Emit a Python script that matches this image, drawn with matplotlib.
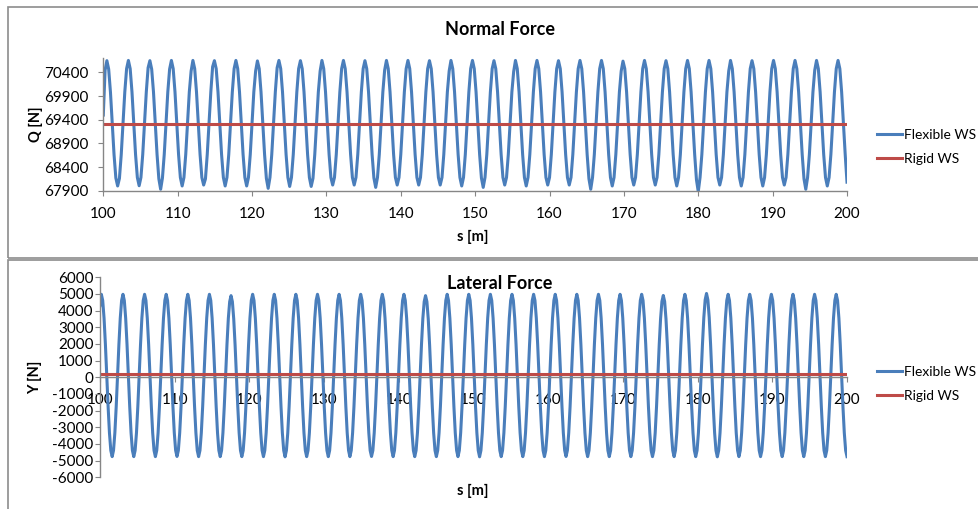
import numpy as np
import matplotlib
matplotlib.use("Agg")
import matplotlib.pyplot as plt
from matplotlib.patches import Rectangle

plt.rcParams['font.family'] = ['Lato', 'DejaVu Sans']
plt.rcParams['axes.unicode_minus'] = False

# ---------------- data ----------------
x_ticks = [100, 110, 120, 130, 140, 150, 160, 170, 180, 190, 200]
q_ticks = [67900, 68400, 68900, 69400, 69900, 70400]
y_ticks = [-6000, -5000, -4000, -3000, -2000, -1000, 0, 1000, 2000, 3000, 4000, 5000, 6000]
series_names = ["Flexible WS", "Rigid WS"]

# Normal force Q [N], flexible wheelset (evenly spaced in s from 100 to 200 m)
Q_flex = [
    69500, 70450, 70650, 70470, 69980, 69320, 68660, 68170, 68000, 68160, 68660, 69330,
    69990, 70480, 70655, 70480, 69990, 69330, 68665, 68180, 68005, 68180, 68665, 69330,
    69990, 70500, 70650, 70470, 69990, 69330, 68665, 68150, 67930, 68170, 68665, 69330,
    69990, 70470, 70655, 70480, 69990, 69330, 68665, 68180, 68000, 68180, 68665, 69330,
    69990, 70430, 70655, 70480, 69990, 69330, 68665, 68180, 68020, 68150, 68665, 69330,
    69990, 70520, 70650, 70480, 69990, 69330, 68665, 68180, 68000, 68180, 68665, 69330,
    69990, 70480, 70655, 70480, 69990, 69330, 68665, 68180, 68000, 68180, 68665, 69330,
    69990, 70430, 70645, 70480, 69990, 69330, 68665, 68160, 67950, 68180, 68665, 69330,
    69990, 70500, 70655, 70480, 69990, 69330, 68665, 68180, 67990, 68180, 68665, 69330,
    69990, 70480, 70650, 70480, 69990, 69330, 68665, 68180, 67990, 68160, 68665, 69330,
    69990, 70430, 70655, 70480, 69990, 69330, 68665, 68180, 68020, 68180, 68665, 69330,
    69990, 70480, 70655, 70480, 69990, 69330, 68665, 68180, 68020, 68180, 68665, 69330,
    69990, 70480, 70650, 70480, 69990, 69330, 68665, 68170, 67970, 68180, 68665, 69330,
    69990, 70450, 70655, 70480, 69990, 69330, 68665, 68180, 68020, 68180, 68665, 69330,
    69990, 70480, 70655, 70480, 69990, 69330, 68665, 68180, 68020, 68180, 68665, 69330,
    69990, 70480, 70650, 70480, 69990, 69330, 68665, 68180, 68020, 68180, 68665, 69330,
    69990, 70430, 70655, 70480, 69990, 69330, 68665, 68180, 68000, 68180, 68665, 69330,
    69990, 70480, 70655, 70480, 69990, 69330, 68665, 68170, 67970, 68180, 68665, 69330,
    69990, 70480, 70650, 70480, 69990, 69330, 68665, 68180, 68020, 68180, 68665, 69330,
    69990, 70420, 70655, 70480, 69990, 69330, 68665, 68180, 68000, 68180, 68665, 69330,
    69990, 70480, 70655, 70480, 69990, 69330, 68665, 68180, 68020, 68180, 68665, 69330,
    69990, 70480, 70650, 70480, 69990, 69330, 68665, 68180, 68020, 68180, 68665, 69330,
    69990, 70480, 70655, 70480, 69990, 69330, 68665, 68150, 67930, 68180, 68665, 69330,
    69990, 70480, 70655, 70480, 69990, 69330, 68665, 68180, 68000, 68180, 68665, 69330,
    69990, 70430, 70640, 70480, 69990, 69330, 68665, 68180, 68020, 68180, 68665, 69330,
    69990, 70480, 70655, 70480, 69990, 69330, 68665, 68180, 68020, 68180, 68665, 69330,
    69990, 70480, 70650, 70480, 69990, 69330, 68665, 68180, 68000, 68180, 68665, 69330,
    69990, 70480, 70655, 70480, 69990, 69330, 68665, 68130, 67880, 68180, 68665, 69330,
    69990, 70480, 70655, 70480, 69990, 69330, 68665, 68180, 68020, 68180, 68665, 69330,
    69990, 70430, 70655, 70480, 69990, 69330, 68665, 68180, 68000, 68180, 68665, 69330,
    69990, 70480, 70650, 70480, 69990, 69330, 68665, 68180, 68000, 68180, 68665, 69330,
    69990, 70480, 70655, 70480, 69990, 69330, 68665, 68180, 68020, 68180, 68665, 69330,
    69990, 70480, 70655, 70480, 69990, 69330, 68665, 68150, 67930, 68180, 68665, 69330,
    69990, 70450, 70655, 70480, 69990, 69330, 68665, 68180, 68000, 68180, 68665, 69330,
    69990, 70480, 70655, 70480, 69990, 69330, 68665, 68080,
]

# Normal force, rigid wheelset
rigid_s = [100, 200]
Q_rigid = [69300, 69300]

# Lateral force Y [N], flexible wheelset (evenly spaced in s from 100 to 200 m)
Y_flex = [
    4300, 4980, 4610, 3550, 1975, 110, -1755, -3335, -4390, -4760, -4390, -3335, -1755, 110, 1975, 3550,
    4610, 4980, 4610, 3550, 1975, 110, -1755, -3335, -4390, -4760, -4390, -3335, -1755, 110, 1975, 3550,
    4610, 4980, 4610, 3550, 1975, 110, -1755, -3335, -4390, -4760, -4390, -3335, -1755, 110, 1975, 3550,
    4610, 4980, 4610, 3550, 1975, 110, -1755, -3335, -4390, -4750, -4390, -3335, -1755, 110, 1975, 3550,
    4610, 4980, 4610, 3550, 1975, 110, -1755, -3335, -4390, -4760, -4390, -3335, -1755, 110, 1975, 3550,
    4610, 4980, 4610, 3550, 1975, 110, -1755, -3335, -4390, -4760, -4390, -3335, -1755, 110, 1975, 3530,
    4540, 4900, 4540, 3500, 1950, 110, -1755, -3335, -4390, -4760, -4390, -3335, -1755, 110, 1975, 3550,
    4610, 4980, 4610, 3550, 1975, 110, -1755, -3335, -4390, -4760, -4390, -3335, -1755, 110, 1975, 3550,
    4610, 4980, 4610, 3550, 1975, 110, -1755, -3335, -4390, -4770, -4390, -3335, -1755, 110, 1975, 3550,
    4610, 4980, 4610, 3550, 1975, 110, -1755, -3335, -4390, -4760, -4390, -3335, -1755, 110, 1975, 3550,
    4610, 4980, 4610, 3550, 1975, 110, -1755, -3335, -4390, -4760, -4390, -3335, -1755, 110, 1975, 3550,
    4610, 4980, 4610, 3550, 1975, 110, -1755, -3335, -4390, -4760, -4390, -3335, -1755, 110, 1975, 3550,
    4610, 4980, 4610, 3550, 1975, 110, -1755, -3335, -4390, -4750, -4390, -3335, -1755, 110, 1975, 3550,
    4610, 4980, 4610, 3550, 1975, 110, -1755, -3335, -4390, -4760, -4390, -3335, -1755, 110, 1975, 3550,
    4610, 4980, 4610, 3550, 1975, 110, -1755, -3335, -4390, -4760, -4390, -3335, -1755, 110, 1975, 3530,
    4540, 4900, 4540, 3500, 1950, 110, -1755, -3335, -4390, -4760, -4390, -3335, -1755, 110, 1975, 3550,
    4610, 4980, 4610, 3550, 1975, 110, -1755, -3335, -4390, -4760, -4390, -3335, -1755, 110, 1975, 3550,
    4610, 4980, 4610, 3550, 1975, 110, -1755, -3335, -4390, -4770, -4390, -3335, -1755, 110, 1975, 3550,
    4610, 4980, 4610, 3550, 1975, 110, -1755, -3335, -4390, -4760, -4390, -3335, -1755, 110, 1975, 3550,
    4610, 4980, 4610, 3550, 1975, 110, -1755, -3335, -4390, -4760, -4390, -3335, -1755, 110, 1975, 3550,
    4610, 4980, 4610, 3550, 1975, 110, -1755, -3335, -4390, -4760, -4390, -3335, -1755, 110, 1975, 3550,
    4610, 4980, 4610, 3550, 1975, 110, -1755, -3335, -4390, -4750, -4390, -3335, -1755, 110, 1975, 3550,
    4610, 4980, 4610, 3550, 1975, 110, -1755, -3335, -4390, -4760, -4390, -3335, -1755, 110, 1975, 3550,
    4610, 4980, 4610, 3550, 1975, 110, -1755, -3335, -4390, -4760, -4390, -3335, -1755, 110, 1975, 3550,
    4610, 4980, 4610, 3550, 1975, 110, -1755, -3335, -4390, -4760, -4390, -3335, -1755, 110, 1975, 3550,
    4610, 4980, 4610, 3550, 1975, 110, -1755, -3335, -4390, -4760, -4390, -3335, -1755, 110, 1975, 3530,
    4550, 4910, 4550, 3500, 1950, 110, -1755, -3335, -4390, -4760, -4390, -3335, -1755, 110, 1975, 3550,
    4610, 4980, 4610, 3550, 1975, 110, -1755, -3335, -4390, -4760, -4390, -3335, -1755, 110, 1975, 3580,
    4650, 5030, 4650, 3590, 1995, 110, -1755, -3335, -4390, -4770, -4390, -3335, -1755, 110, 1975, 3550,
    4610, 4980, 4610, 3550, 1975, 110, -1755, -3335, -4390, -4760, -4390, -3335, -1755, 110, 1975, 3550,
    4610, 4980, 4610, 3550, 1975, 110, -1755, -3335, -4390, -4760, -4390, -3335, -1755, 110, 1975, 3550,
    4610, 4980, 4610, 3550, 1975, 110, -1755, -3335, -4390, -4760, -4390, -3335, -1755, 110, 1975, 3550,
    4610, 4980, 4610, 3550, 1975, 110, -1755, -3335, -4390, -4760, -4390, -3335, -1755, 110, 1975, 3550,
    4610, 4980, 4610, 3550, 1975, 110, -1755, -3335, -4390, -4760, -4390, -3335, -1755, 110, 1975, 3550,
    4610, 4980, 4610, 3550, 1975, 110, -1755, -3335, -4390, -4760,
]

# Lateral force, rigid wheelset
Y_rigid = [180, 180]

s_top = np.linspace(100, 200, len(Q_flex))
s_bot = np.linspace(100, 200, len(Y_flex))

# ---------------- styling ----------------
W, H = 979, 509
BLUE = '#4A7EBB'
RED = '#BE4B48'
GRID = '#868686'
FRAME = '#8C8C8C'

fig = plt.figure(figsize=(W / 100, H / 100), dpi=100)
fig.patch.set_facecolor('white')

def fx(px):
    return px / W

def fy(py):
    return 1 - py / H

# panel frames
fig.patches.append(Rectangle((fx(8), fy(258)), fx(990 - 8), (258 - 7) / H,
                             transform=fig.transFigure, fill=False, ec=FRAME, lw=1.2))
fig.patches.append(Rectangle((fx(8), fy(530)), fx(990 - 8), (530 - 260) / H,
                             transform=fig.transFigure, fill=False, ec=FRAME, lw=1.2))

ax1 = fig.add_axes([fx(103.3), fy(190.7), fx(847 - 103.3), (190.7 - 58.3) / H])
ax2 = fig.add_axes([fx(100), fy(477.3), fx(847 - 100), (477.3 - 277.3) / H])

for ax in (ax1, ax2):
    ax.set_facecolor('none')
    for side in ('top', 'right'):
        ax.spines[side].set_visible(False)
    for side in ('left', 'bottom'):
        ax.spines[side].set_color(GRID)
        ax.spines[side].set_linewidth(1.0)
    ax.set_xlim(100, 200)
    ax.set_xticks(x_ticks)
    ax.set_xticklabels([str(v) for v in x_ticks])

# ---- top: Normal force ----
l1, = ax1.plot(s_top, Q_flex, color=BLUE, lw=2.2, solid_joinstyle='round', label=series_names[0])
l2, = ax1.plot(rigid_s, Q_rigid, color=RED, lw=2.2, label=series_names[1])
ax1.set_ylim(67900, 70700)
ax1.set_yticks(q_ticks)
ax1.set_yticklabels([str(v) for v in q_ticks])
ax1.tick_params(axis='y', direction='out', length=3.6, color=GRID, labelsize=11, pad=7)
ax1.tick_params(axis='x', direction='out', length=3.6, color=GRID, labelsize=11, pad=8)
ax1.legend(handles=[l1, l2], loc='upper left', bbox_to_anchor=(fx(877), fy(129)),
           bbox_transform=fig.transFigure, frameon=False, borderpad=0, borderaxespad=0,
           handlelength=1.85, handletextpad=0.12, labelspacing=0.85, fontsize=9.9)

# ---- bottom: Lateral force ----
m1, = ax2.plot(s_bot, Y_flex, color=BLUE, lw=2.2, solid_joinstyle='round', label=series_names[0])
m2, = ax2.plot(rigid_s, Y_rigid, color=RED, lw=2.2, label=series_names[1])
ax2.set_ylim(-6000, 6000)
ax2.set_yticks(y_ticks)
ax2.set_yticklabels([str(v) for v in y_ticks])
ax2.spines['bottom'].set_position(('data', 0))
ax2.tick_params(axis='y', direction='out', length=3.6, color=GRID, labelsize=11, pad=1)
ax2.tick_params(axis='x', direction='out', length=3.6, color=GRID, labelsize=11, pad=8)
ax2.legend(handles=[m1, m2], loc='upper left', bbox_to_anchor=(fx(877), fy(366)),
           bbox_transform=fig.transFigure, frameon=False, borderpad=0, borderaxespad=0,
           handlelength=1.85, handletextpad=0.12, labelspacing=0.85, fontsize=9.9)

# titles and axis labels
fig.text(fx(500), fy(35), 'Normal Force', ha='center', va='baseline', fontsize=13, fontweight='bold')
fig.text(fx(500), fy(289), 'Lateral Force', ha='center', va='baseline', fontsize=13, fontweight='bold')
fig.text(fx(35.5), fy(124.5), 'Q [N]', ha='center', va='center', rotation=90, fontsize=10.5, fontweight='bold')
fig.text(fx(35.5), fy(377), 'Y [N]', ha='center', va='center', rotation=90, fontsize=10.5, fontweight='bold')
fig.text(fx(473), fy(237), 's [m]', ha='center', va='center', fontsize=10.5, fontweight='bold')
fig.text(fx(473), fy(491), 's [m]', ha='center', va='center', fontsize=10.5, fontweight='bold')

fig.savefig('out.png', dpi=100, facecolor='white')
